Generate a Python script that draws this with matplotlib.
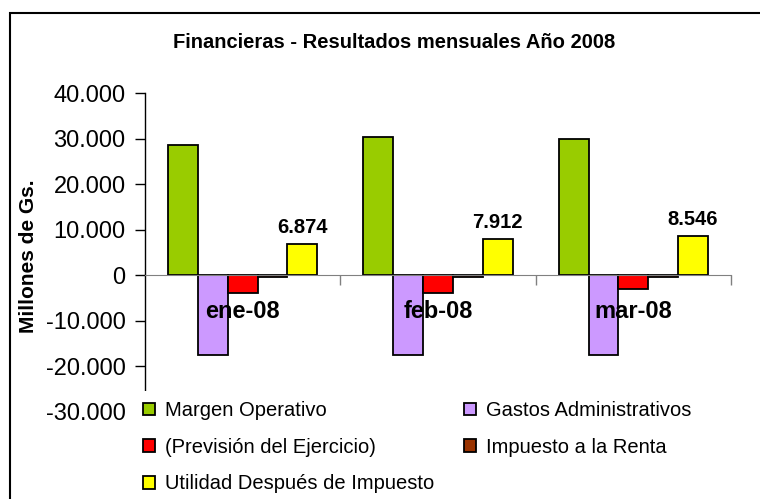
import matplotlib.pyplot as plt
import numpy as np
from matplotlib.patches import Rectangle
from matplotlib.ticker import FuncFormatter

plt.rcParams['font.family'] = ['Liberation Sans', 'DejaVu Sans']

# data (millones de Gs.)
months = ["ene-08", "feb-08", "mar-08"]
series = ["Margen Operativo", "Gastos Administrativos", "(Previsión del Ejercicio)",
          "Impuesto a la Renta", "Utilidad Después de Impuesto"]
margen = [28600, 30400, 29900]
gastos = [-17500, -17500, -17500]
prevision = [-3800, -3800, -2900]
impuesto = [-400, -400, -400]
utilidad = [6874, 7912, 8546]
colors = ["#99CC00", "#CC99FF", "#FF0000", "#993300", "#FFFF00"]

values = [margen, gastos, prevision, impuesto, utilidad]

fig = plt.figure(figsize=(7.6, 4.99), dpi=100)
ax = fig.add_axes([145/760, 1-412/499, 586/760, 319/499])

x = np.arange(len(months))
w = 0.153
bars = []
for k, (vals, c, name) in enumerate(zip(values, colors, series)):
    b = ax.bar(x + (k-2)*w, vals, w, color=c, edgecolor="black", linewidth=1.3,
               label=name, zorder=3)
    bars.append(b)

# labels on the last series
ax.bar_label(bars[4], labels=[f"{v:,}".replace(",", ".") for v in utilidad],
             padding=5, fontsize=14.5, fontweight="bold", zorder=5)

for i, m in enumerate(months):
    ax.text(i, -7900, m, ha="center", va="center", fontsize=17,
            fontweight="bold", zorder=6)

ax.set_ylim(-30000, 40000)
ax.set_xlim(-0.5, 2.5)
ax.set_yticks(np.arange(-30000, 40001, 10000))
ax.yaxis.set_major_formatter(FuncFormatter(lambda v, p: f"{int(v):,}".replace(",", ".")))
ax.tick_params(axis="y", direction="out", length=7, width=1, labelsize=17, pad=7)
ax.set_xticks([0.5, 1.5, 2.5])
ax.set_xticklabels([])
ax.tick_params(axis="x", direction="out", length=7, width=1, color="#808080")

ax.spines["top"].set_visible(False)
ax.spines["right"].set_visible(False)
ax.spines["bottom"].set_position(("data", 0))
ax.spines["bottom"].set_color("#808080")
ax.spines["bottom"].set_zorder(4)
ax.spines["left"].set_linewidth(1)

fig.text(394/760, 1-43/499, "Financieras - Resultados mensuales Año 2008",
         ha="center", va="center", fontsize=14.5, fontweight="bold")
fig.text(29/760, 1-256/499, "Millones de Gs.", rotation=90, ha="center",
         va="center", fontsize=15, fontweight="bold")

# legend area covers the lower part of the plot
fig.add_artist(Rectangle((135/760, 0), 1, 1-391/499, facecolor="white",
                         edgecolor="none", transform=fig.transFigure, zorder=2))
order = [0, 2, 4, 1, 3]
leg = fig.legend([bars[i] for i in order], [series[i] for i in order],
                 loc="upper left", bbox_to_anchor=(143/760, 1-401/499), ncol=2,
                 frameon=False, fontsize=14.5, handlelength=0.6, handleheight=0.6,
                 handletextpad=0.5, columnspacing=1.45, labelspacing=0.88,
                 borderpad=0, borderaxespad=0)
leg.set_zorder(3)

# chart border
fig.add_artist(Rectangle((9.5/760, -0.1), 1.2, 1.1 - 13/499, fill=False,
                         edgecolor="black", linewidth=1.5, transform=fig.transFigure,
                         zorder=4))

fig.savefig("out.png", dpi=100)
